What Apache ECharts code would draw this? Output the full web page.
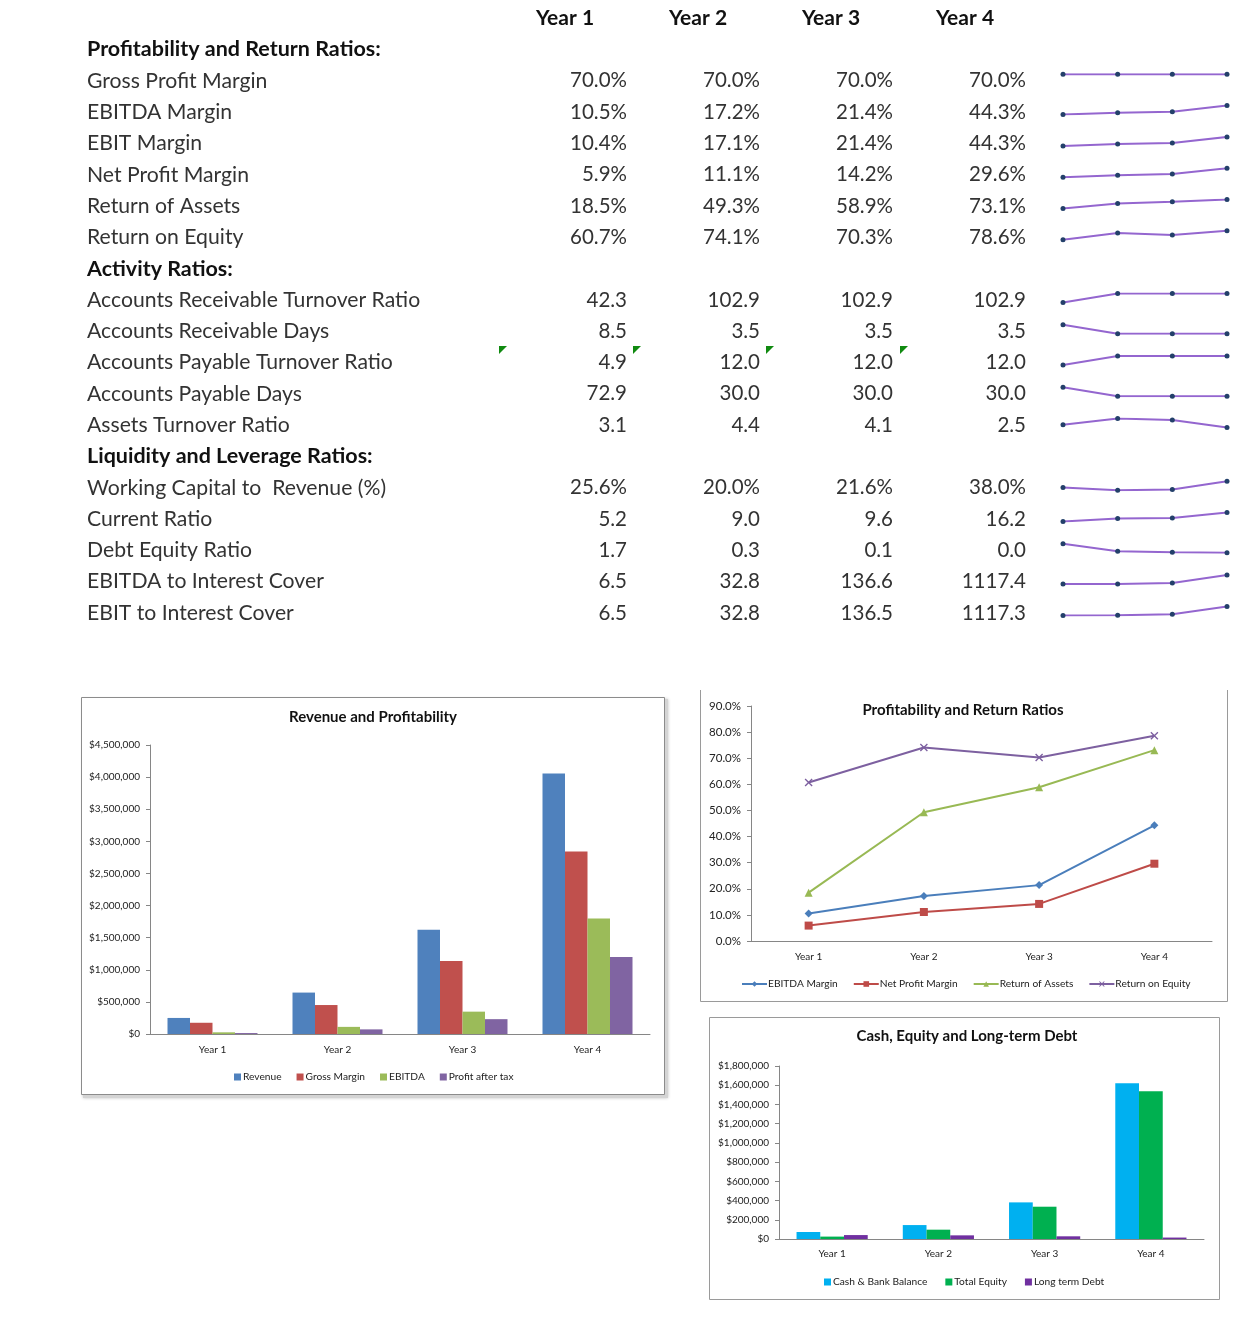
<!DOCTYPE html>
<html><head><meta charset="utf-8">
<script src="https://cdn.jsdelivr.net/npm/echarts@6/dist/echarts.min.js"></script>
<style>html,body{margin:0;padding:0;background:#fff}#c{width:1259px;height:1328px}</style>
</head><body><div id="c"></div>
<script>
// ---------- data ----------
const years = ['Year 1', 'Year 2', 'Year 3', 'Year 4'];

const sectionProfit = 'Profitability and Return Ratios:';
const sectionActivity = 'Activity Ratios:';
const sectionLiquidity = 'Liquidity and Leverage Ratios:';

const grossProfitMargin = [70.0, 70.0, 70.0, 70.0];
const ebitdaMargin = [10.5, 17.2, 21.4, 44.3];
const ebitMargin = [10.4, 17.1, 21.4, 44.3];
const netProfitMargin = [5.9, 11.1, 14.2, 29.6];
const returnOfAssets = [18.5, 49.3, 58.9, 73.1];
const returnOnEquity = [60.7, 74.1, 70.3, 78.6];
const arTurnover = [42.3, 102.9, 102.9, 102.9];
const arDays = [8.5, 3.5, 3.5, 3.5];
const apTurnover = [4.9, 12.0, 12.0, 12.0];
const apDays = [72.9, 30.0, 30.0, 30.0];
const assetsTurnover = [3.1, 4.4, 4.1, 2.5];
const wcToRevenue = [25.6, 20.0, 21.6, 38.0];
const currentRatio = [5.2, 9.0, 9.6, 16.2];
const debtEquity = [1.7, 0.3, 0.1, 0.0];
const ebitdaInterestCover = [6.5, 32.8, 136.6, 1117.4];
const ebitInterestCover = [6.5, 32.8, 136.5, 1117.3];

const revenue = [250000, 645000, 1625000, 4055000];
const grossMargin = [175000, 451000, 1138000, 2840000];
const ebitda = [26000, 111000, 348000, 1797000];
const profitAfterTax = [15000, 72000, 231000, 1200000];

const cashBank = [73000, 145000, 381000, 1620000];
const totalEquity = [25000, 97000, 336000, 1537000];
const longTermDebt = [41000, 38000, 28000, 15000];

const tableRows = [
  [sectionProfit],
  ['Gross Profit Margin', grossProfitMargin, true],
  ['EBITDA Margin', ebitdaMargin, true],
  ['EBIT Margin', ebitMargin, true],
  ['Net Profit Margin', netProfitMargin, true],
  ['Return of Assets', returnOfAssets, true],
  ['Return on Equity', returnOnEquity, true],
  [sectionActivity],
  ['Accounts Receivable Turnover Ratio', arTurnover, false],
  ['Accounts Receivable Days', arDays, false],
  ['Accounts Payable Turnover Ratio', apTurnover, false],
  ['Accounts Payable Days', apDays, false],
  ['Assets Turnover Ratio', assetsTurnover, false],
  [sectionLiquidity],
  ['Working Capital to  Revenue (%)', wcToRevenue, true],
  ['Current Ratio', currentRatio, false],
  ['Debt Equity Ratio', debtEquity, false],
  ['EBITDA to Interest Cover', ebitdaInterestCover, false],
  ['EBIT to Interest Cover', ebitInterestCover, false]
];

// ---------- layout ----------
const FONT = 'Lato';
const rowY0 = 49.5, rowStep = 31.3;
const labelX = 87;
const valueRight = [627, 760, 893, 1026];
const headerCenter = [565, 698, 831, 965];
const headerY = 18.5;
const sparkLeft = 1063, sparkWidth = 164;

const graphics = [];
const grids = [], xAxes = [], yAxes = [], series = [];

// header
years.forEach((y, i) => {
  graphics.push({ type: 'text', x: headerCenter[i], y: headerY,
    style: { text: y, fontFamily: FONT, fontSize: 21, fontWeight: 'bold', fill: '#111', align: 'center', verticalAlign: 'middle' } });
});

tableRows.forEach((row, r) => {
  const cy = rowY0 + r * rowStep;
  if (row.length === 1) {
    graphics.push({ type: 'text', x: labelX, y: cy,
      style: { text: row[0], fontFamily: FONT, fontSize: 21.5, fontWeight: 'bold', fill: '#111', align: 'left', verticalAlign: 'middle' } });
    return;
  }
  const [label, vals, pct] = row;
  graphics.push({ type: 'text', x: labelX, y: cy,
    style: { text: label, fontFamily: FONT, fontSize: 21.2, fill: '#333', align: 'left', verticalAlign: 'middle' } });
  vals.forEach((v, i) => {
    graphics.push({ type: 'text', x: valueRight[i], y: cy,
      style: { text: v.toFixed(1) + (pct ? '%' : ''), fontFamily: FONT, fontSize: 20.5, fill: '#333', align: 'right', verticalAlign: 'middle' } });
  });
  // sparkline
  const gi = grids.length;
  grids.push({ left: sparkLeft, top: cy - 6.5, width: sparkWidth, height: 9 });
  xAxes.push({ gridIndex: gi, type: 'category', data: years, boundaryGap: false, show: false });
  yAxes.push({ gridIndex: gi, type: 'value', show: false,
    min: e => (e.min === e.max ? e.min - 1 : e.min), max: e => e.max });
  series.push({ type: 'line', name: 'spark' + gi, xAxisIndex: gi, yAxisIndex: gi, data: vals,
    symbol: 'circle', symbolSize: 5, silent: true,
    lineStyle: { color: '#9466cf', width: 2 }, itemStyle: { color: '#23406a' } });
});

// green indicators (row "Accounts Payable Turnover Ratio")
[499, 633, 766, 900].forEach(x => {
  graphics.push({ type: 'polygon', shape: { points: [[x, 346], [x + 8, 346], [x, 354]] }, style: { fill: '#108a10' } });
});

// chart frames
graphics.push({ type: 'rect', z: -20, shape: { x: 83, y: 699, width: 585, height: 399 }, style: { fill: '#d4d4d4', shadowBlur: 3, shadowColor: 'rgba(0,0,0,0.25)' } });
graphics.push({ type: 'rect', z: -19, shape: { x: 81.5, y: 697.5, width: 583, height: 397 }, style: { fill: '#fff', stroke: '#8c8c8c', lineWidth: 1 } });
graphics.push({ type: 'polyline', z: -19, shape: { points: [[700.5, 690], [700.5, 1001.5], [1227.5, 1001.5], [1227.5, 690]] }, style: { fill: 'none', stroke: '#9a9a9a', lineWidth: 1 } });
graphics.push({ type: 'rect', z: -19, shape: { x: 709.5, y: 1017.5, width: 510, height: 282 }, style: { fill: 'none', stroke: '#9a9a9a', lineWidth: 1 } });

const axisLineStyle = { lineStyle: { color: '#868686', width: 1 } };
const axisTickStyle = { lineStyle: { color: '#868686' }, length: 4 };
const labelStyle = { color: '#222', fontFamily: FONT, fontSize: 10, margin: 10 };
const money = v => '$' + v.toLocaleString('en-US');

// chart 1
let g1 = grids.length;
grids.push({ left: 150, top: 745, width: 500, height: 289 });
xAxes.push({ gridIndex: g1, type: 'category', data: years, axisLine: axisLineStyle, axisTick: axisTickStyle, axisLabel: { ...labelStyle, margin: 11 } });
yAxes.push({ gridIndex: g1, type: 'value', min: 0, max: 4500000, interval: 500000, splitLine: { show: false },
  axisLine: { show: true, ...axisLineStyle }, axisTick: { show: true, ...axisTickStyle }, axisLabel: { ...labelStyle, formatter: money } });
[['Revenue', revenue, '#4f81bd'], ['Gross Margin', grossMargin, '#c0504d'], ['EBITDA', ebitda, '#9bbb59'], ['Profit after tax', profitAfterTax, '#8064a2']]
  .forEach(([n, d, c]) => series.push({ type: 'bar', name: n, xAxisIndex: g1, yAxisIndex: g1, data: d, barGap: '0%', barCategoryGap: '28%', itemStyle: { color: c } }));

// chart 2
let g2 = grids.length;
grids.push({ left: 751, top: 706, width: 461, height: 235 });
xAxes.push({ gridIndex: g2, type: 'category', data: years, axisLine: axisLineStyle, axisTick: axisTickStyle, axisLabel: { ...labelStyle, margin: 11 } });
yAxes.push({ gridIndex: g2, type: 'value', min: 0, max: 90, interval: 10, splitLine: { show: false },
  axisLine: { show: true, ...axisLineStyle }, axisTick: { show: true, ...axisTickStyle }, axisLabel: { ...labelStyle, fontSize: 11.5, formatter: v => v.toFixed(1) + '%' } });
const xSym = 'path://M0,1.2L1.2,0L5,3.8L8.8,0L10,1.2L6.2,5L10,8.8L8.8,10L5,6.2L1.2,10L0,8.8L3.8,5Z';
[['EBITDA Margin', ebitdaMargin, '#4a7ebb', 'diamond', 8],
 ['Net Profit Margin', netProfitMargin, '#be4b48', 'rect', 8],
 ['Return of Assets', returnOfAssets, '#98b954', 'triangle', 8],
 ['Return on Equity', returnOnEquity, '#7d60a0', xSym, 8]]
  .forEach(([n, d, c, s, sz]) => series.push({ type: 'line', name: n, xAxisIndex: g2, yAxisIndex: g2, data: d,
    symbol: s, symbolSize: sz, showAllSymbol: true, lineStyle: { color: c, width: 2 }, itemStyle: { color: c } }));

// chart 3
let g3 = grids.length;
grids.push({ left: 779, top: 1066, width: 425, height: 173 });
xAxes.push({ gridIndex: g3, type: 'category', data: years, axisLine: axisLineStyle, axisTick: axisTickStyle, axisLabel: { ...labelStyle, margin: 10 } });
yAxes.push({ gridIndex: g3, type: 'value', min: 0, max: 1800000, interval: 200000, splitLine: { show: false },
  axisLine: { show: true, ...axisLineStyle }, axisTick: { show: true, ...axisTickStyle }, axisLabel: { ...labelStyle, formatter: money } });
[['Cash & Bank Balance', cashBank, '#00b0f0'], ['Total Equity', totalEquity, '#00b050'], ['Long term Debt', longTermDebt, '#7030a0']]
  .forEach(([n, d, c]) => series.push({ type: 'bar', name: n, xAxisIndex: g3, yAxisIndex: g3, data: d, barGap: '0%', barCategoryGap: '33%', itemStyle: { color: c } }));

const titleStyle = { fontFamily: FONT, fontSize: 15, fontWeight: 'bold', color: '#111' };
const legendText = { fontFamily: FONT, fontSize: 10.2, color: '#222', padding: [0, 0, 0, -3] };

const option = {
  animation: false,
  backgroundColor: '#fff',
  title: [
    { text: 'Revenue and Profitability', left: 373, top: 710, textAlign: 'center', padding: 0, textStyle: titleStyle },
    { text: 'Profitability and Return Ratios', left: 963, top: 703, textAlign: 'center', padding: 0, textStyle: titleStyle },
    { text: 'Cash, Equity and Long-term Debt', left: 967, top: 1029, textAlign: 'center', padding: 0, textStyle: titleStyle }
  ],
  legend: [
    { data: ['Revenue', 'Gross Margin', 'EBITDA', 'Profit after tax'], left: 234, top: 1072, padding: 0, icon: 'rect',
      itemWidth: 7, itemHeight: 7, itemGap: 15, textStyle: legendText, selectedMode: false },
    { data: ['EBITDA Margin', 'Net Profit Margin', 'Return of Assets', 'Return on Equity'], left: 741, top: 979, padding: 0,
      itemWidth: 25, itemHeight: 7, itemGap: 15, textStyle: { ...legendText, padding: [0, 0, 0, -4] }, selectedMode: false },
    { data: ['Cash & Bank Balance', 'Total Equity', 'Long term Debt'], left: 824, top: 1277, padding: 0, icon: 'rect',
      itemWidth: 7, itemHeight: 7, itemGap: 18, textStyle: legendText, selectedMode: false }
  ],
  grid: grids,
  xAxis: xAxes,
  yAxis: yAxes,
  series: series,
  graphic: { elements: graphics }
};

const chart = echarts.init(document.getElementById('c'));
chart.setOption(option);
</script>
</body></html>
